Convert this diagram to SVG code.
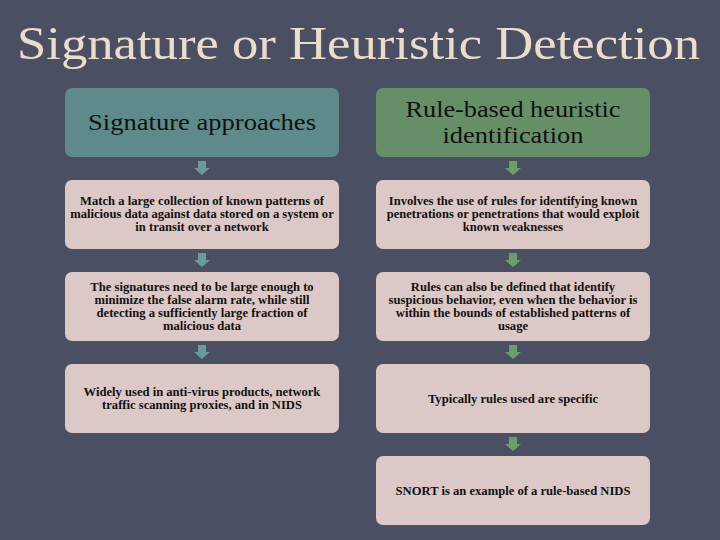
<svg xmlns="http://www.w3.org/2000/svg" width="720" height="540" viewBox="0 0 720 540">
<defs>
<style>
.title{font-family:"Liberation Serif","Times New Roman",serif;font-size:46px;fill:#ecdccb}
.hdr{font-family:"Liberation Serif","Times New Roman",serif;font-size:24px;fill:#111;text-anchor:middle}
.body{font-family:"Liberation Serif","Times New Roman",serif;font-size:12.6px;font-weight:bold;fill:#111;text-anchor:middle}
.box{fill:#dcc8c6}
.hl{fill:#5f8a8b}
.hr{fill:#668f68}
.al{fill:#6a9b9c}
.ar{fill:#6e9e68}
</style>
<path id="arr" d="M-4,-7 H4 V0 H8 L0,7 L-8,0 H-4 Z"/>
</defs>
<rect width="720" height="540" fill="#4a4f63"/>
<text class="title" x="17" y="59" textLength="683" lengthAdjust="spacingAndGlyphs">Signature or Heuristic Detection</text>
<g id="connectors">
<use href="#arr" class="al" x="202" y="168"/>
<use href="#arr" class="al" x="202" y="260"/>
<use href="#arr" class="al" x="202" y="352"/>
<use href="#arr" class="ar" x="513" y="168"/>
<use href="#arr" class="ar" x="513" y="260"/>
<use href="#arr" class="ar" x="513" y="352"/>
<use href="#arr" class="ar" x="513" y="444"/>
</g>
<g id="left-header">
<rect class="hl" x="65" y="88" width="274" height="69" rx="7"/>
<text class="hdr" x="202" y="130" textLength="228" lengthAdjust="spacingAndGlyphs">Signature approaches</text>
</g>
<g id="left-1">
<rect class="box" x="65" y="180" width="274" height="69" rx="7"/>
<text class="body" x="202" y="205">Match a large collection of known patterns of</text>
<text class="body" x="202" y="218">malicious data against data stored on a system or</text>
<text class="body" x="202" y="231">in transit over a network</text>
</g>
<g id="left-2">
<rect class="box" x="65" y="272" width="274" height="69" rx="7"/>
<text class="body" x="202" y="291">The signatures need to be large enough to</text>
<text class="body" x="202" y="304">minimize the false alarm rate, while still</text>
<text class="body" x="202" y="317">detecting a sufficiently large fraction of</text>
<text class="body" x="202" y="330">malicious data</text>
</g>
<g id="left-3">
<rect class="box" x="65" y="364" width="274" height="69" rx="7"/>
<text class="body" x="202" y="396">Widely used in anti-virus products, network</text>
<text class="body" x="202" y="409">traffic scanning proxies, and in NIDS</text>
</g>
<g id="right-header">
<rect class="hr" x="376" y="88" width="274" height="69" rx="7"/>
<text class="hdr" x="513" y="117" textLength="215" lengthAdjust="spacingAndGlyphs">Rule-based heuristic</text>
<text class="hdr" x="513" y="143" textLength="141" lengthAdjust="spacingAndGlyphs">identification</text>
</g>
<g id="right-1">
<rect class="box" x="376" y="180" width="274" height="69" rx="7"/>
<text class="body" x="513" y="205">Involves the use of rules for identifying known</text>
<text class="body" x="513" y="218">penetrations or penetrations that would exploit</text>
<text class="body" x="513" y="231">known weaknesses</text>
</g>
<g id="right-2">
<rect class="box" x="376" y="272" width="274" height="69" rx="7"/>
<text class="body" x="513" y="291">Rules can also be defined that identify</text>
<text class="body" x="513" y="304">suspicious behavior, even when the behavior is</text>
<text class="body" x="513" y="317">within the bounds of established patterns of</text>
<text class="body" x="513" y="330">usage</text>
</g>
<g id="right-3">
<rect class="box" x="376" y="364" width="274" height="69" rx="7"/>
<text class="body" x="513" y="403">Typically rules used are specific</text>
</g>
<g id="right-4">
<rect class="box" x="376" y="456" width="274" height="69" rx="7"/>
<text class="body" x="513" y="495">SNORT is an example of a rule-based NIDS</text>
</g>
</svg>
